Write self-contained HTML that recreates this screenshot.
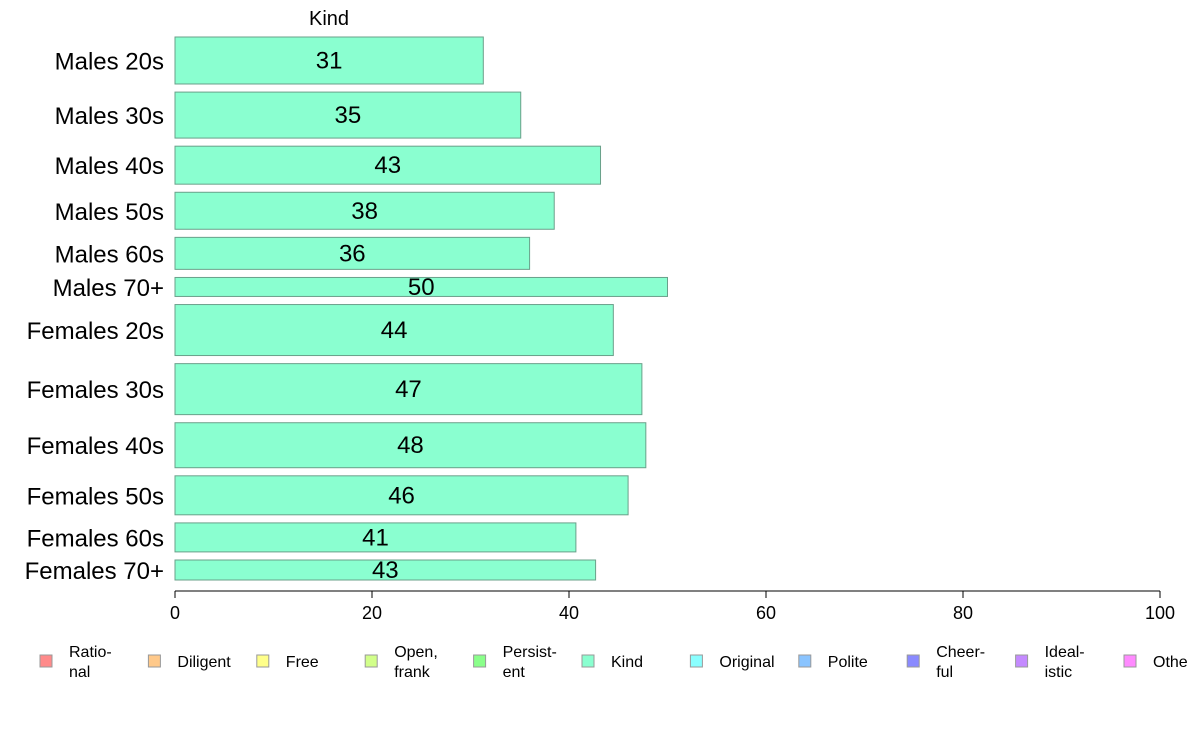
<!DOCTYPE html>
<html><head><meta charset="utf-8"><style>
body{margin:0;background:#fff;font-family:"Liberation Sans",sans-serif}
svg text{font-family:"Liberation Sans",sans-serif}
</style></head><body>
<svg id="c" width="1188" height="736"></svg>
<script>
const categories=["Males 20s","Males 30s","Males 40s","Males 50s","Males 60s","Males 70+","Females 20s","Females 30s","Females 40s","Females 50s","Females 60s","Females 70+"];
const values=[31.3,35.1,43.2,38.5,36.0,50.0,44.5,47.4,47.8,46.0,40.7,42.7];
const labels=["31","35","43","38","36","50","44","47","48","46","41","43"];
const weights=[47,46,38,37,32,19,51,51,45,39,29,20];
const ticks=[0,20,40,60,80,100];
const legendNames=[["Ratio-","nal"],["Diligent"],["Free"],["Open,","frank"],["Persist-","ent"],["Kind"],["Original"],["Polite"],["Cheer-","ful"],["Ideal-","istic"],["Other"]];
const legendColors=["#ff8a8a","#ffc98a","#ffff8a","#d2ff8a","#8aff8a","#8affd0","#8affff","#8ac4ff","#8a8aff","#c48aff","#ff8aff"];
const NS="http://www.w3.org/2000/svg",svg=document.getElementById('c');
function el(t,a,p){const e=document.createElementNS(NS,t);for(const k in a)e.setAttribute(k,a[k]);(p||svg).appendChild(e);return e;}
const x0=175,x1=1160,yTop=37,yBot=580,gap=8.1;
const xs=v=>x0+(x1-x0)*v/100;
const wsum=weights.reduce((a,b)=>a+b,0);
const unit=(yBot-yTop-gap*(weights.length-1))/wsum;
let t=el('text',{x:329,y:25,'font-size':20,'text-anchor':'middle'});


t.textContent="Kind";
let y=yTop;
categories.forEach((c,i)=>{
 const h=weights[i]*unit;
 const r=el('rect',{x:x0,y:y,width:xs(values[i])-x0,height:h,fill:'#8affd0',stroke:'#6aa08a','stroke-width':1});
 
 
 const lv=el('text',{x:(x0+xs(values[i]))/2,y:y+h/2+8,'font-size':24,'text-anchor':'middle'});
 
 
 lv.textContent=labels[i];
 const lc=el('text',{x:164,y:y+h/2+9,'font-size':24,'text-anchor':'end'});
 
 
 lc.textContent=c;
 y+=h+gap;
});
const ax=el('line',{x1:x0,x2:x1,y1:591,y2:591,stroke:'#000','stroke-width':1});


ticks.forEach(v=>{
 const tl=el('line',{x1:xs(v),x2:xs(v),y1:591,y2:598,stroke:'#000'});
 
 
 const tt=el('text',{x:xs(v),y:619,'font-size':18,'text-anchor':'middle'});
 
 
 tt.textContent=v;
});
legendNames.forEach((n,i)=>{
 const lx=40+i*108.4;
 const g=el('g',{});
 
 
 el('rect',{x:lx,y:655,width:12,height:12,fill:legendColors[i],stroke:'#999','stroke-width':1},g);
 n.forEach((s,j)=>{
  const tx=el('text',{x:lx+29,y:n.length==1?667:657+j*20,'font-size':16},g);
  tx.textContent=s;
 });
});
</script>
</body></html>
